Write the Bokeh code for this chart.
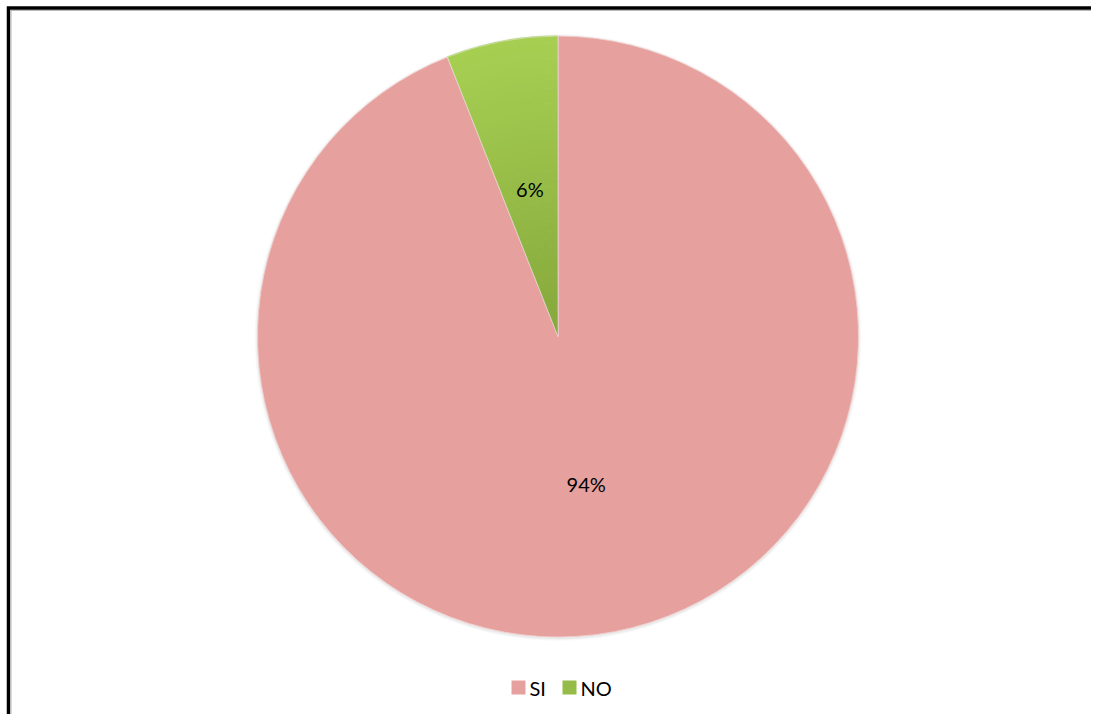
import math
from bokeh.plotting import figure
from bokeh.models import Range1d
from bokeh.core.properties import value
from bokeh.embed import file_html
from bokeh.resources import INLINE

# Data
categories = ["SI", "NO"]
percentages = [94, 6]
labels = ["94%", "6%"]
colors = ["#E6A09E", "#A6CF52"]
green_dark = "#86A83C"

W, H = 1091, 714
p = figure(width=W, height=H, output_backend="svg", toolbar_location=None,
           x_range=Range1d(0, W), y_range=Range1d(0, H), min_border=0)
p.axis.visible = False
p.grid.visible = False
p.outline_line_color = None
p.background_fill_color = "white"
p.border_fill_color = "white"

def Y(img_y):
    return H - img_y

# Frame (top and left edges visible; right/bottom beyond window in reference)
p.line([8, 8, W + 40], [-40, Y(7.5), Y(7.5)], line_color="black", line_width=3.5,
       line_join="miter")
p.line([10.5, 10.5, W + 40], [-40, Y(10), Y(10)], line_color="#B8B8B8", line_width=1)

# Pie geometry (pixel-based data coords)
cx, cy, r = 557.5, Y(336), 300.5

# soft shadow
for dr, a in [(3.0, 0.035), (2.0, 0.05), (1.0, 0.07)]:
    p.circle(x=[cx], y=[cy - 1], radius=r + dr, fill_color="#707070",
             fill_alpha=a, line_color=None)

total = sum(percentages)
# Excel-style: start at 12 o'clock, go clockwise
start = math.pi / 2
angles = []
for v in percentages:
    end = start - 2 * math.pi * v / total
    angles.append((end, start))
    start = end

# SI wedge
p.wedge(x=cx, y=cy, radius=r, start_angle=angles[0][0], end_angle=angles[0][1],
        fill_color=colors[0], line_color="#F2D0CF", line_width=0.8)

# NO wedge with radial gradient (light at rim, darker to centre)
n = 40
def mix(c1, c2, t):
    a = [int(c1[i:i + 2], 16) for i in (1, 3, 5)]
    b = [int(c2[i:i + 2], 16) for i in (1, 3, 5)]
    return "#%02x%02x%02x" % tuple(round(a[k] + (b[k] - a[k]) * t) for k in range(3))
for i in range(n):
    r_out = r * (n - i) / n
    r_in = r * (n - i - 1) / n
    t = i / (n - 1)
    p.annular_wedge(x=cx, y=cy, inner_radius=r_in, outer_radius=r_out + 0.6,
                    start_angle=angles[1][0], end_angle=angles[1][1],
                    fill_color=mix(colors[1], green_dark, t), line_color=None)
p.wedge(x=cx, y=cy, radius=r, start_angle=angles[1][0], end_angle=angles[1][1],
        fill_color=None, line_color="#E8E8E8", line_width=0.8, line_alpha=0.7)

# Data labels
label_pos = []
for (a0, a1), v in zip(angles, percentages):
    mid = (a0 + a1) / 2
    rr = 0.5 * r
    label_pos.append((cx + rr * math.cos(mid), cy + rr * math.sin(mid)))
p.text(x=[lp[0] for lp in label_pos], y=[lp[1] for lp in label_pos], text=labels,
       text_align="center", text_baseline="middle", text_font=value("Lato"),
       text_font_size="20px", text_color="#000000")

# Legend
leg_y = Y(687)
sq_x = [518, 569]
txt_x = [529, 580]
p.rect(x=sq_x, y=[leg_y] * 2, width=14, height=14, fill_color=[colors[0], "#95BC48"],
       line_color=None)
p.text(x=txt_x, y=[leg_y] * 2, text=categories, text_align="left", text_baseline="middle",
       text_font=value("Lato"), text_font_size="20px", text_color="#000000")

open("out.html", "w").write(file_html(p, INLINE))
